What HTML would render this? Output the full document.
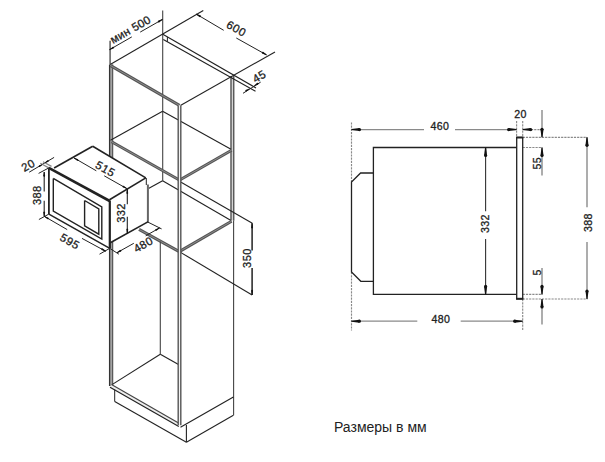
<!DOCTYPE html>
<html><head><meta charset="utf-8"><style>
html,body{margin:0;padding:0;background:#fff;}
svg{display:block;}
text{font-family:"Liberation Sans", sans-serif;}
</style></head><body>
<svg width="605" height="462" viewBox="0 0 605 462">
<rect width="605" height="462" fill="#fff"/>
<line x1="351.5" y1="122.4" x2="351.5" y2="182" stroke="#8a8a8a" stroke-width="1.15" stroke-dasharray="2.2 1"/>
<line x1="351.5" y1="272" x2="351.5" y2="330.5" stroke="#8a8a8a" stroke-width="1.15" stroke-dasharray="2.2 1"/>
<line x1="516.6" y1="121" x2="516.6" y2="137.2" stroke="#8a8a8a" stroke-width="1.15" stroke-dasharray="2.2 1"/>
<line x1="522.7" y1="121" x2="522.7" y2="137.2" stroke="#8a8a8a" stroke-width="1.15" stroke-dasharray="2.2 1"/>
<line x1="522.7" y1="299" x2="522.7" y2="331" stroke="#8a8a8a" stroke-width="1.15" stroke-dasharray="2.2 1"/>
<line x1="531" y1="129.6" x2="541" y2="129.6" stroke="#8a8a8a" stroke-width="1.15" stroke-dasharray="2.2 1"/>
<line x1="522.7" y1="137.3" x2="587" y2="137.3" stroke="#8a8a8a" stroke-width="1.15" stroke-dasharray="2.2 1"/>
<line x1="522.7" y1="147.5" x2="542" y2="147.5" stroke="#8a8a8a" stroke-width="1.15" stroke-dasharray="2.2 1"/>
<line x1="522.7" y1="294.4" x2="542" y2="294.4" stroke="#8a8a8a" stroke-width="1.15" stroke-dasharray="2.2 1"/>
<line x1="522.7" y1="299" x2="587.5" y2="299" stroke="#8a8a8a" stroke-width="1.15" stroke-dasharray="2.2 1"/>
<polyline points="516.7,147.5 373.4,147.5 373.4,294.4 516.7,294.4" fill="none" stroke="#222" stroke-width="1.3"/>
<rect x="516.7" y="137.3" width="6" height="161.7" fill="none" stroke="#222" stroke-width="1.3"/>
<line x1="516.1" y1="137.6" x2="523.3" y2="137.6" stroke="#222" stroke-width="1.8"/>
<line x1="516.1" y1="298.7" x2="523.3" y2="298.7" stroke="#222" stroke-width="1.8"/>
<polyline points="373.4,173 360.6,173 351.5,182 351.5,272 360.8,281.3 373.4,281.3" fill="none" stroke="#222" stroke-width="1.3"/>
<line x1="351.5" y1="129.6" x2="424" y2="129.6" stroke="#8a8a8a" stroke-width="1.3"/>
<line x1="455" y1="129.6" x2="516.6" y2="129.6" stroke="#8a8a8a" stroke-width="1.3"/>
<polygon points="351.5,129.07 359.5,128.1 359.5,131.1 351.5,130.12" fill="#111"/>
<circle cx="359.5" cy="129.6" r="1.58" fill="#111"/>
<polygon points="516.6,130.12 508.6,131.1 508.6,128.1 516.6,129.07" fill="#111"/>
<circle cx="508.6" cy="129.6" r="1.58" fill="#111"/>
<text transform="translate(439.88 126.1) rotate(0)" x="0" y="3.71" font-size="10.6" text-anchor="middle" fill="#222" letter-spacing="0.35" stroke="#222" stroke-width="0.3">460</text>
<line x1="522.7" y1="129.6" x2="531" y2="129.6" stroke="#8a8a8a" stroke-width="1.1"/>
<polygon points="522.7,129.07 530.7,128.1 530.7,131.1 522.7,130.12" fill="#111"/>
<circle cx="530.7" cy="129.6" r="1.58" fill="#111"/>
<text transform="translate(520.38 114) rotate(0)" x="0" y="3.71" font-size="10.6" text-anchor="middle" fill="#222" letter-spacing="0.35" stroke="#222" stroke-width="0.3">20</text>
<line x1="542" y1="110" x2="542" y2="137.3" stroke="#8a8a8a" stroke-width="1.4"/>
<polygon points="541.48,137.3 540.5,129.3 543.5,129.3 542.52,137.3" fill="#111"/>
<circle cx="542" cy="129.3" r="1.58" fill="#111"/>
<line x1="542" y1="147.5" x2="542" y2="175.6" stroke="#8a8a8a" stroke-width="1.4"/>
<polygon points="542.52,147.5 543.5,155.5 540.5,155.5 541.48,147.5" fill="#111"/>
<circle cx="542" cy="155.5" r="1.58" fill="#111"/>
<text transform="translate(536.9 163.32) rotate(-90)" x="0" y="3.71" font-size="10.6" text-anchor="middle" fill="#222" letter-spacing="0.35" stroke="#222" stroke-width="0.3">55</text>
<line x1="542" y1="268" x2="542" y2="294.4" stroke="#8a8a8a" stroke-width="1.4"/>
<polygon points="541.48,294.4 540.5,286.4 543.5,286.4 542.52,294.4" fill="#111"/>
<circle cx="542" cy="286.4" r="1.58" fill="#111"/>
<line x1="542" y1="299" x2="542" y2="324.6" stroke="#8a8a8a" stroke-width="1.4"/>
<polygon points="542.52,299 543.5,307 540.5,307 541.48,299" fill="#111"/>
<circle cx="542" cy="307" r="1.58" fill="#111"/>
<text transform="translate(536.9 272.43) rotate(-90)" x="0" y="3.71" font-size="10.6" text-anchor="middle" fill="#222" letter-spacing="0.35" stroke="#222" stroke-width="0.3">5</text>
<line x1="587" y1="137.3" x2="587" y2="207.3" stroke="#8a8a8a" stroke-width="1.4"/>
<line x1="587" y1="242" x2="587" y2="299" stroke="#8a8a8a" stroke-width="1.4"/>
<polygon points="587.52,137.3 588.5,145.3 585.5,145.3 586.48,137.3" fill="#111"/>
<circle cx="587" cy="145.3" r="1.58" fill="#111"/>
<polygon points="586.48,299 585.5,291 588.5,291 587.52,299" fill="#111"/>
<circle cx="587" cy="291" r="1.58" fill="#111"/>
<text transform="translate(588.2 222.62) rotate(-90)" x="0" y="3.71" font-size="10.6" text-anchor="middle" fill="#222" letter-spacing="0.35" stroke="#222" stroke-width="0.3">388</text>
<line x1="485.6" y1="147.5" x2="485.6" y2="211.3" stroke="#333" stroke-width="1.1"/>
<line x1="485.6" y1="238.9" x2="485.6" y2="294.4" stroke="#333" stroke-width="1.1"/>
<polygon points="486.12,147.5 487.1,155.5 484.1,155.5 485.08,147.5" fill="#111"/>
<circle cx="485.6" cy="155.5" r="1.58" fill="#111"/>
<polygon points="485.08,294.4 484.1,286.4 487.1,286.4 486.12,294.4" fill="#111"/>
<circle cx="485.6" cy="286.4" r="1.58" fill="#111"/>
<text transform="translate(485.4 223.52) rotate(-90)" x="0" y="3.71" font-size="10.6" text-anchor="middle" fill="#222" letter-spacing="0.35" stroke="#222" stroke-width="0.3">332</text>
<line x1="351.4" y1="321.2" x2="417.3" y2="321.2" stroke="#8a8a8a" stroke-width="1.3"/>
<line x1="460.7" y1="321.2" x2="522.7" y2="321.2" stroke="#8a8a8a" stroke-width="1.3"/>
<polygon points="351.4,320.68 359.4,319.7 359.4,322.7 351.4,321.72" fill="#111"/>
<circle cx="359.4" cy="321.2" r="1.58" fill="#111"/>
<polygon points="522.7,321.72 514.7,322.7 514.7,319.7 522.7,320.68" fill="#111"/>
<circle cx="514.7" cy="321.2" r="1.58" fill="#111"/>
<text transform="translate(440.78 319.2) rotate(0)" x="0" y="3.71" font-size="10.6" text-anchor="middle" fill="#222" letter-spacing="0.35" stroke="#222" stroke-width="0.3">480</text>
<text x="334" y="432.2" font-size="14" fill="#222">Размеры в мм</text>
<line x1="162.7" y1="10.5" x2="162.7" y2="180.7" stroke="#444" stroke-width="1.1"/>
<line x1="110.1" y1="40.8" x2="110.1" y2="64.6" stroke="#666" stroke-width="1.6"/>
<line x1="111.1" y1="64.6" x2="111.1" y2="386" stroke="#a8a8a8" stroke-width="3"/>
<line x1="109.6" y1="64.6" x2="109.6" y2="386" stroke="#333" stroke-width="1.3"/>
<line x1="112.6" y1="64.6" x2="112.6" y2="386" stroke="#5a5a5a" stroke-width="1.3"/>
<line x1="232.35" y1="76" x2="232.35" y2="220.6" stroke="#dcdcdc" stroke-width="2.7"/>
<line x1="231" y1="76" x2="231" y2="220.6" stroke="#5a5a5a" stroke-width="1.5"/>
<line x1="233.7" y1="76" x2="233.7" y2="220.6" stroke="#5a5a5a" stroke-width="1.5"/>
<line x1="233.6" y1="220.6" x2="233.6" y2="415.3" stroke="#444" stroke-width="1.1"/>
<line x1="110.2" y1="64.6" x2="203.3" y2="10.6" stroke="#222" stroke-width="1.1"/>
<line x1="162.8" y1="34.3" x2="256" y2="87.9" stroke="#222" stroke-width="1.1"/>
<line x1="163.3" y1="39.4" x2="255.5" y2="91.2" stroke="#222" stroke-width="1.1"/>
<line x1="167.4" y1="36.9" x2="167.4" y2="41.8" stroke="#222" stroke-width="1"/>
<line x1="180.4" y1="105.4" x2="275" y2="52" stroke="#222" stroke-width="1.1"/>
<line x1="110.6" y1="65.6" x2="179.4" y2="105.4" stroke="#555" stroke-width="3"/>
<line x1="110.6" y1="65.6" x2="179.4" y2="105.4" stroke="#8c8c8c" stroke-width="1"/>
<line x1="110.5" y1="140.3" x2="162.6" y2="111.2" stroke="#222" stroke-width="1.1"/>
<line x1="162.6" y1="111.2" x2="231" y2="149.3" stroke="#222" stroke-width="1.1"/>
<line x1="111.6" y1="141.8" x2="179.3" y2="180" stroke="#555" stroke-width="3"/>
<line x1="111.6" y1="141.8" x2="179.3" y2="180" stroke="#8c8c8c" stroke-width="1"/>
<line x1="179.3" y1="180.3" x2="231.6" y2="150.2" stroke="#555" stroke-width="3"/>
<line x1="179.3" y1="180.3" x2="231.6" y2="150.2" stroke="#8c8c8c" stroke-width="1"/>
<line x1="179.8" y1="181.6" x2="252.3" y2="223.2" stroke="#222" stroke-width="1.1"/>
<line x1="162.6" y1="180.7" x2="231" y2="220.4" stroke="#222" stroke-width="1.1"/>
<line x1="162.6" y1="180.7" x2="148.5" y2="188.6" stroke="#222" stroke-width="1.1"/>
<line x1="139" y1="229.4" x2="179.3" y2="251.6" stroke="#555" stroke-width="3"/>
<line x1="139" y1="229.4" x2="179.3" y2="251.6" stroke="#8c8c8c" stroke-width="1"/>
<line x1="179.3" y1="251.6" x2="231.6" y2="221.2" stroke="#555" stroke-width="3"/>
<line x1="179.3" y1="251.6" x2="231.6" y2="221.2" stroke="#8c8c8c" stroke-width="1"/>
<line x1="179.3" y1="251.6" x2="252.1" y2="295" stroke="#222" stroke-width="1.1"/>
<line x1="252.1" y1="223.2" x2="252.1" y2="250.5" stroke="#222" stroke-width="1.5"/>
<line x1="252.1" y1="268" x2="252.1" y2="295" stroke="#222" stroke-width="1.5"/>
<polygon points="252.43,223.2 253.05,227.7 251.15,227.7 251.77,223.2" fill="#111"/>
<circle cx="252.1" cy="227.7" r="0.8" fill="#111"/>
<polygon points="251.77,295 251.15,290.5 253.05,290.5 252.43,295" fill="#111"/>
<circle cx="252.1" cy="290.5" r="0.8" fill="#111"/>
<text transform="translate(247 258.1) rotate(-90)" x="0" y="3.85" font-size="11" text-anchor="middle" fill="#222" letter-spacing="0.4" stroke="#222" stroke-width="0.3">350</text>
<line x1="160.3" y1="241.5" x2="160.3" y2="354.3" stroke="#444" stroke-width="1.1"/>
<line x1="160.3" y1="354.3" x2="112" y2="384.6" stroke="#222" stroke-width="1.1"/>
<line x1="160.3" y1="354.3" x2="178.5" y2="364.6" stroke="#222" stroke-width="1.1"/>
<line x1="110.75" y1="385.85" x2="179.55" y2="425.25" stroke="#eeeeee" stroke-width="3"/>
<line x1="110" y1="387.15" x2="178.8" y2="426.55" stroke="#222" stroke-width="1.15"/>
<line x1="111.5" y1="384.55" x2="180.3" y2="423.95" stroke="#444" stroke-width="1.15"/>
<line x1="180.5" y1="427.3" x2="233.4" y2="397" stroke="#222" stroke-width="1.1"/>
<line x1="114.7" y1="389.5" x2="114.7" y2="401.6" stroke="#222" stroke-width="1"/>
<line x1="114.7" y1="401.6" x2="186.4" y2="442.3" stroke="#222" stroke-width="1.1"/>
<line x1="186.4" y1="425" x2="186.4" y2="442.3" stroke="#222" stroke-width="1.1"/>
<line x1="186.4" y1="442.3" x2="233.4" y2="415.3" stroke="#222" stroke-width="1.1"/>
<line x1="179.5" y1="105.4" x2="179.5" y2="425.3" stroke="#f2f2f2" stroke-width="2.6"/>
<line x1="178.2" y1="105.4" x2="178.2" y2="425.3" stroke="#555" stroke-width="1.4"/>
<line x1="180.8" y1="105.4" x2="180.8" y2="425.3" stroke="#555" stroke-width="1.4"/>
<line x1="109.5" y1="49.7" x2="131.8" y2="36.9" stroke="#222" stroke-width="1"/>
<line x1="140.2" y1="32.1" x2="162.5" y2="19.4" stroke="#222" stroke-width="1"/>
<polygon points="109.33,49.41 112.93,46.64 113.88,48.29 109.67,49.99" fill="#111"/>
<circle cx="113.41" cy="47.47" r="0.8" fill="#111"/>
<polygon points="162.67,19.69 159.07,22.46 158.12,20.81 162.33,19.11" fill="#111"/>
<circle cx="158.59" cy="21.63" r="0.8" fill="#111"/>
<text transform="translate(130.43 29.53) rotate(-29.8)" x="0" y="3.99" font-size="11.4" text-anchor="middle" fill="#222" letter-spacing="0.3" stroke="#222" stroke-width="0.3">мин 500</text>
<line x1="196.3" y1="14.1" x2="223.7" y2="30.3" stroke="#222" stroke-width="1"/>
<line x1="236.3" y1="38" x2="266.5" y2="54.9" stroke="#222" stroke-width="1"/>
<polygon points="196.47,13.81 200.67,15.52 199.73,17.17 196.13,14.39" fill="#111"/>
<circle cx="200.2" cy="16.34" r="0.8" fill="#111"/>
<polygon points="266.33,55.19 262.13,53.48 263.07,51.83 266.67,54.61" fill="#111"/>
<circle cx="262.6" cy="52.66" r="0.8" fill="#111"/>
<text transform="translate(236.42 28.52) rotate(29.9)" x="0" y="3.96" font-size="11.3" text-anchor="middle" fill="#222" letter-spacing="0.5" stroke="#222" stroke-width="0.3">600</text>
<line x1="243" y1="93.3" x2="260.7" y2="82.1" stroke="#222" stroke-width="1"/>
<polygon points="249.67,88.99 246.56,91.57 245.58,89.94 249.33,88.41" fill="#111"/>
<circle cx="246.07" cy="90.76" r="0.8" fill="#111"/>
<polygon points="254.13,85.41 257.24,82.83 258.22,84.46 254.47,85.99" fill="#111"/>
<circle cx="257.73" cy="83.64" r="0.8" fill="#111"/>
<text transform="translate(259.31 76.47) rotate(-31)" x="0" y="3.96" font-size="11.3" text-anchor="middle" fill="#222" letter-spacing="0.5" stroke="#222" stroke-width="0.3">45</text>
<polygon points="48.8,167.9 54.1,168 92.7,146.2 145.8,177.9 148.8,179 148.8,221.6 110.3,243 109.8,248.5 48.9,214.1" fill="#fff"/>
<line x1="54.1" y1="168" x2="92.7" y2="146.2" stroke="#222" stroke-width="1.6"/>
<line x1="92.7" y1="146.2" x2="145.8" y2="177.9" stroke="#222" stroke-width="1.6"/>
<line x1="145.8" y1="177.9" x2="109.5" y2="199.8" stroke="#222" stroke-width="1.6"/>
<line x1="146.3" y1="178" x2="146.3" y2="185" stroke="#222" stroke-width="1"/>
<line x1="147.9" y1="184.5" x2="147.9" y2="221.8" stroke="#666" stroke-width="2"/>
<line x1="110.3" y1="242.8" x2="148.3" y2="221.6" stroke="#222" stroke-width="1.6"/>
<line x1="48.8" y1="167.9" x2="109.7" y2="201" stroke="#222" stroke-width="2.6"/>
<line x1="48.9" y1="168" x2="48.9" y2="214.1" stroke="#222" stroke-width="1.8"/>
<line x1="109.8" y1="200.5" x2="109.8" y2="248.3" stroke="#222" stroke-width="2.2"/>
<line x1="48.9" y1="214.1" x2="109.8" y2="248.3" stroke="#222" stroke-width="1.5"/>
<polyline points="53.3,178.4 101.8,207 101.8,239 53.3,211.1 53.3,178.4" fill="none" stroke="#222" stroke-width="1.4"/>
<polyline points="84.6,200.5 98.8,209 98.8,234.2 84.6,225.9 84.6,200.5" fill="none" stroke="#222" stroke-width="1.4"/>
<line x1="29.2" y1="172.2" x2="54.1" y2="157.4" stroke="#222" stroke-width="1"/>
<line x1="40.3" y1="163.2" x2="48.8" y2="167.9" stroke="#888" stroke-width="1.2"/>
<line x1="43" y1="161.7" x2="51.5" y2="166.4" stroke="#888" stroke-width="1.2"/>
<polygon points="42.56,164.77 39.85,167.06 38.93,165.51 42.24,164.23" fill="#111"/>
<circle cx="39.39" cy="166.29" r="0.7" fill="#111"/>
<polygon points="44.84,162.53 47.55,160.24 48.47,161.79 45.16,163.07" fill="#111"/>
<circle cx="48.01" cy="161.01" r="0.7" fill="#111"/>
<text transform="translate(28.22 165.28) rotate(-30)" x="0" y="3.96" font-size="11.3" text-anchor="middle" fill="#222" letter-spacing="0.5" stroke="#222" stroke-width="0.3">20</text>
<line x1="38.6" y1="173.4" x2="48.8" y2="167.9" stroke="#222" stroke-width="1"/>
<line x1="38.9" y1="219.5" x2="48.9" y2="214.1" stroke="#222" stroke-width="1"/>
<line x1="44.2" y1="172.1" x2="44.2" y2="191.6" stroke="#222" stroke-width="1.1"/>
<line x1="44.2" y1="200.7" x2="44.2" y2="216.2" stroke="#222" stroke-width="1.1"/>
<polygon points="44.53,172.1 45.15,176.1 43.25,176.1 43.87,172.1" fill="#111"/>
<circle cx="44.2" cy="176.1" r="0.8" fill="#111"/>
<polygon points="43.87,216.2 43.25,212.2 45.15,212.2 44.53,216.2" fill="#111"/>
<circle cx="44.2" cy="212.2" r="0.8" fill="#111"/>
<text transform="translate(37.5 195.3) rotate(-90)" x="0" y="3.85" font-size="11" text-anchor="middle" fill="#222" letter-spacing="0.4" stroke="#222" stroke-width="0.3">388</text>
<line x1="44.1" y1="216.2" x2="67.2" y2="229.6" stroke="#222" stroke-width="1"/>
<line x1="82" y1="238.4" x2="105.8" y2="251.3" stroke="#222" stroke-width="1"/>
<line x1="99.5" y1="254.2" x2="109.8" y2="248.3" stroke="#222" stroke-width="1"/>
<text transform="translate(69.86 241.45) rotate(29.5)" x="0" y="3.96" font-size="11.3" text-anchor="middle" fill="#222" letter-spacing="0.6" stroke="#222" stroke-width="0.3">595</text>
<line x1="74" y1="157.9" x2="96.3" y2="170.8" stroke="#222" stroke-width="1"/>
<line x1="104.2" y1="175.8" x2="126.8" y2="188.6" stroke="#222" stroke-width="1"/>
<text transform="translate(105.42 168.92) rotate(29.5)" x="0" y="3.96" font-size="11.3" text-anchor="middle" fill="#222" letter-spacing="0.5" stroke="#222" stroke-width="0.3">515</text>
<line x1="127.3" y1="188.8" x2="127.3" y2="204.3" stroke="#222" stroke-width="1.1"/>
<line x1="127.3" y1="216.7" x2="127.3" y2="233.4" stroke="#222" stroke-width="1.1"/>
<text transform="translate(120.7 213) rotate(-90)" x="0" y="3.85" font-size="11" text-anchor="middle" fill="#222" letter-spacing="0.4" stroke="#222" stroke-width="0.3">332</text>
<line x1="147.7" y1="222" x2="161.6" y2="228.9" stroke="#222" stroke-width="1"/>
<line x1="110.3" y1="248.7" x2="118.9" y2="254.2" stroke="#222" stroke-width="1"/>
<line x1="117" y1="252.7" x2="133.8" y2="243.3" stroke="#222" stroke-width="1"/>
<line x1="145.7" y1="235.8" x2="159.6" y2="227.9" stroke="#222" stroke-width="1"/>
<text transform="translate(143.22 244.57) rotate(-30)" x="0" y="3.96" font-size="11.3" text-anchor="middle" fill="#222" letter-spacing="0.5" stroke="#222" stroke-width="0.3">480</text>
<polygon points="74.16,157.63 78.09,159.21 77.19,160.77 73.84,158.17" fill="#111"/>
<circle cx="77.64" cy="159.99" r="0.75" fill="#111"/>
<polygon points="126.64,188.87 122.71,187.29 123.61,185.73 126.96,188.33" fill="#111"/>
<circle cx="123.16" cy="186.51" r="0.75" fill="#111"/>
<polygon points="44.46,216.03 48.38,217.63 47.48,219.19 44.14,216.57" fill="#111"/>
<circle cx="47.93" cy="218.41" r="0.75" fill="#111"/>
<polygon points="105.45,251.38 101.48,249.9 102.33,248.31 105.75,250.82" fill="#111"/>
<circle cx="101.9" cy="249.1" r="0.75" fill="#111"/>
<polygon points="116.85,252.43 120.22,249.86 121.1,251.43 117.15,252.97" fill="#111"/>
<circle cx="120.66" cy="250.65" r="0.75" fill="#111"/>
<polygon points="159.75,228.17 156.38,230.74 155.5,229.17 159.45,227.63" fill="#111"/>
<circle cx="155.94" cy="229.95" r="0.75" fill="#111"/>
<polygon points="127.61,189 128.2,193.2 126.4,193.2 126.98,189" fill="#111"/>
<circle cx="127.3" cy="193.2" r="0.75" fill="#111"/>
<polygon points="126.98,233.4 126.4,229.2 128.2,229.2 127.61,233.4" fill="#111"/>
<circle cx="127.3" cy="229.2" r="0.75" fill="#111"/>
</svg>
</body></html>
